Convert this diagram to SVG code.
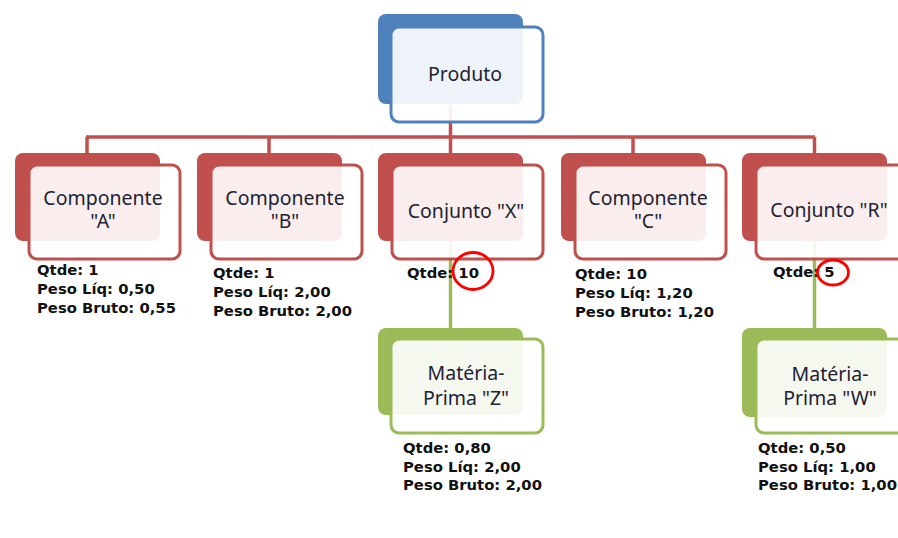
<svg xmlns="http://www.w3.org/2000/svg" width="898" height="538" viewBox="0 0 898 538">
<style>
.bg{fill:#ffffff}
.backB{fill:#4F81BD}
.backR{fill:#C0504D}
.backG{fill:#9BBB59}
.front{fill:#ffffff;fill-opacity:0.9;stroke-width:3}
.fB{stroke:#4F81BD}
.fR{stroke:#C0504D}
.fG{stroke:#9BBB59}
.t{font-family:"Noto Sans","Liberation Sans",sans-serif;font-size:19.5px;fill:#1e2233;text-anchor:middle}
.l{font-family:"DejaVu Sans","Liberation Sans",sans-serif;font-weight:bold;font-size:14.8px;fill:#111111}
.cr{fill:none;stroke:#C0504D;stroke-width:3.5}
.cg{fill:none;stroke:#9BBB59;stroke-width:3.5}
.mark{fill:none;stroke:#FF0000;stroke-width:2.8}
</style>
<rect class="bg" x="0" y="0" width="898" height="538"/>
<g id="connectors">
<path class="cr" d="M450.5 105 V137 M86 137 H815 M87 137 V155 M269 137 V155 M450.5 137 V155 M633 137 V155 M814.5 137 V155"/>
<path class="cg" d="M450.5 241 V330 M814.5 241 V330"/>
</g>
<g id="produto">
<rect class="backB" x="378" y="14" width="145" height="90" rx="8"/>
<rect class="front fB" x="391" y="27" width="152" height="95" rx="8"/>
<text class="t" x="465" y="81">Produto</text>
</g>
<g id="componente-a">
<rect class="backR" x="15" y="153" width="145" height="88" rx="8"/>
<rect class="front fR" x="29" y="165" width="151" height="94" rx="8"/>
<text class="t" x="103" y="205">Componente</text>
<text class="t" x="103" y="228">"A"</text>
<text class="l" x="37" y="275">Qtde: 1</text>
<text class="l" x="37" y="294">Peso Líq: 0,50</text>
<text class="l" x="37" y="313">Peso Bruto: 0,55</text>
</g>
<g id="componente-b">
<rect class="backR" x="197" y="153" width="145" height="88" rx="8"/>
<rect class="front fR" x="211" y="165" width="151" height="94" rx="8"/>
<text class="t" x="285" y="205">Componente</text>
<text class="t" x="285" y="228">"B"</text>
<text class="l" x="213" y="278">Qtde: 1</text>
<text class="l" x="213" y="297">Peso Líq: 2,00</text>
<text class="l" x="213" y="316">Peso Bruto: 2,00</text>
</g>
<g id="conjunto-x">
<rect class="backR" x="378" y="153" width="145" height="88" rx="8"/>
<rect class="front fR" x="392" y="165" width="151" height="94" rx="8"/>
<text class="t" x="466" y="218">Conjunto "X"</text>
<text class="l" x="407" y="278">Qtde: 10</text>
<ellipse class="mark" cx="473" cy="271" rx="20" ry="18.5"/>
</g>
<g id="componente-c">
<rect class="backR" x="561" y="153" width="145" height="88" rx="8"/>
<rect class="front fR" x="575" y="165" width="151" height="94" rx="8"/>
<text class="t" x="648" y="205">Componente</text>
<text class="t" x="648" y="228">"C"</text>
<text class="l" x="575" y="279">Qtde: 10</text>
<text class="l" x="575" y="298">Peso Líq: 1,20</text>
<text class="l" x="575" y="317">Peso Bruto: 1,20</text>
</g>
<g id="conjunto-r">
<rect class="backR" x="742" y="153" width="145" height="88" rx="8"/>
<rect class="front fR" x="756" y="165" width="151" height="94" rx="8"/>
<text class="t" x="829" y="217">Conjunto "R"</text>
<text class="l" x="773" y="277">Qtde: 5</text>
<ellipse class="mark" cx="833" cy="272.5" rx="15.5" ry="12.5"/>
</g>
<g id="materia-prima-z">
<rect class="backG" x="378" y="328" width="145" height="87" rx="8"/>
<rect class="front fG" x="391" y="339" width="152" height="94" rx="8"/>
<text class="t" x="466" y="380">Matéria-</text>
<text class="t" x="466" y="405">Prima "Z"</text>
<text class="l" x="403" y="453">Qtde: 0,80</text>
<text class="l" x="403" y="471.5">Peso Líq: 2,00</text>
<text class="l" x="403" y="490">Peso Bruto: 2,00</text>
</g>
<g id="materia-prima-w">
<rect class="backG" x="742" y="328" width="145" height="89" rx="8"/>
<rect class="front fG" x="756" y="339" width="151" height="94" rx="8"/>
<text class="t" x="830" y="381">Matéria-</text>
<text class="t" x="830" y="405">Prima "W"</text>
<text class="l" x="758" y="453">Qtde: 0,50</text>
<text class="l" x="758" y="471.5">Peso Líq: 1,00</text>
<text class="l" x="758" y="490">Peso Bruto: 1,00</text>
</g>
</svg>
